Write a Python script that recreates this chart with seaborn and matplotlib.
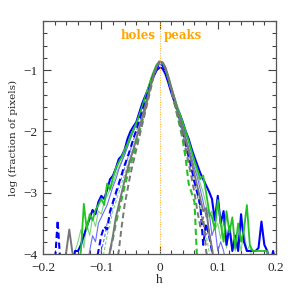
import numpy as np
import pandas as pd
import seaborn as sns
import matplotlib.pyplot as plt

# bin centres of h, step 0.005 from -0.2 to 0.2 (81 bins)
h = np.round(np.linspace(-0.2, 0.2, 81), 3)
LO = -4.2  # empty bins, below the plotted range

blue_solid = [LO, LO, LO, LO, LO, LO, LO, LO, LO, LO,
              LO, -3.95, -3.95, -3.85, -3.7, -3.55, -3.42, -3.28, -3.35, -3.15,
              -3.05, -3.1, -2.95, -2.78, -2.72, -2.6, -2.45, -2.4, -2.3, -2.12,
              -2.0, -1.92, -1.85, -1.7, -1.55, -1.43, -1.32, -1.2, -1.1, -1.0,
              -0.96, -0.97, -1.06, -1.2, -1.36, -1.5, -1.62, -1.72, -1.85, -2.0,
              -2.12, -2.28, -2.42, -2.55, -2.68, -2.78, -2.88, -2.98, -3.1, -3.45,
              -3.05, -3.5, -3.3, -3.85, -3.55, -3.95, -3.7, -3.95, -3.35, -3.8,
              -3.95, -3.95, -3.95, -3.95, -3.9, -3.47, -3.85, -3.95, LO, -3.95,
              LO]

green_solid = [LO, LO, LO, LO, LO, LO, LO, LO, LO, LO,
               LO, LO, LO, -3.95, -3.18, -3.6, -3.35, -3.45, -3.28, -3.2,
               -3.1, -3.2, -2.85, -2.95, -2.75, -2.6, -2.5, -2.42, -2.3, -2.2,
               -2.08, -1.97, -1.87, -1.74, -1.6, -1.45, -1.3, -1.15, -1.02, -0.91,
               -0.86, -0.88, -0.98, -1.12, -1.28, -1.43, -1.58, -1.72, -1.86, -2.0,
               -2.15, -2.32, -2.48, -2.62, -2.78, -2.72, -3.0, -3.3, -3.4, -3.6,
               -3.12, -3.5, -3.8, -3.3, -3.65, -3.4, -3.9, -3.5, -3.8, -3.6,
               -3.2, -3.85, -3.95, -3.95, -3.95, -3.95, -3.95, -3.95, LO, LO,
               LO]

blue_dashed = [LO, LO, LO, LO, LO, -3.45, LO, LO, LO, LO,
               LO, LO, LO, LO, LO, LO, LO, LO, LO, -3.95,
               -3.7, -3.55, -3.6, -3.3, -3.15, -3.0, -2.85, -2.7, -2.55, -2.42,
               -2.28, -2.12, -1.98, -1.82, -1.68, -1.52, -1.37, -1.22, -1.07, -0.96,
               -0.9, -0.92, -1.02, -1.17, -1.33, -1.5, -1.67, -1.84, -2.02, -2.2,
               -2.4, -2.6, -2.82, -3.0, -3.2, -3.85, -3.5, -3.7, -3.95, LO,
               LO, LO, LO, LO, LO, LO, LO, LO, LO, LO,
               LO, LO, LO, LO, LO, LO, LO, LO, LO, LO,
               LO]

green_dashed = [LO, LO, LO, LO, LO, LO, LO, LO, LO, LO,
                LO, LO, LO, LO, LO, LO, LO, LO, LO, LO,
                LO, LO, LO, -3.95, -3.75, -3.5, -3.3, -3.1, -2.9, -2.72,
                -2.55, -2.38, -2.2, -2.02, -1.85, -1.65, -1.45, -1.25, -1.07, -0.93,
                -0.85, -0.87, -0.97, -1.13, -1.32, -1.52, -1.72, -1.92, -2.15, -2.45,
                -2.85, -3.0, -3.15, LO, LO, LO, LO, LO, LO, LO,
                LO, LO, LO, LO, LO, LO, LO, LO, LO, LO,
                LO, LO, LO, LO, LO, LO, LO, LO, LO, LO,
                LO]

gray_solid = [LO, LO, LO, LO, LO, LO, LO, LO, -3.95, -3.6,
              -3.95, LO, LO, LO, LO, LO, LO, LO, LO, LO,
              LO, LO, LO, -3.95, -3.7, -3.4, -3.2, -3.0, -2.8, -2.62,
              -2.45, -2.3, -2.12, -1.95, -1.78, -1.6, -1.42, -1.24, -1.07, -0.94,
              -0.86, -0.87, -0.95, -1.1, -1.27, -1.44, -1.62, -1.8, -1.97, -2.14,
              -2.32, -2.5, -2.7, -2.9, -3.1, -3.3, -3.25, -3.65, -3.9, LO,
              LO, LO, LO, LO, LO, LO, LO, LO, LO, LO,
              LO, LO, LO, LO, LO, LO, LO, LO, LO, LO,
              LO]

gray_dashed = [LO, LO, LO, LO, LO, LO, LO, LO, LO, LO,
               LO, LO, LO, LO, LO, LO, LO, LO, LO, LO,
               LO, LO, LO, LO, LO, LO, -3.95, -3.55, -3.2, -2.95,
               -2.7, -2.5, -2.3, -2.1, -1.9, -1.7, -1.5, -1.3, -1.1, -0.95,
               -0.87, -0.88, -0.98, -1.14, -1.32, -1.5, -1.7, -1.9, -2.1, -2.3,
               -2.52, -2.75, -3.0, -3.3, -3.55, -3.4, -3.95, LO, LO, LO,
               LO, LO, LO, LO, LO, LO, LO, LO, LO, LO,
               LO, LO, LO, LO, LO, LO, LO, LO, LO, LO,
               LO]

blue_thin = [LO, LO, LO, LO, LO, LO, LO, LO, LO, LO,
             LO, LO, LO, LO, LO, LO, -3.95, -3.7, -3.8, -3.5,
             -3.4, -3.3, -3.2, -3.05, -2.9, -2.78, -2.62, -2.5, -2.38, -2.25,
             -2.12, -2.0, -1.88, -1.75, -1.62, -1.48, -1.34, -1.2, -1.06, -0.95,
             -0.9, -0.91, -1.0, -1.15, -1.3, -1.46, -1.62, -1.78, -1.94, -2.1,
             -2.26, -2.42, -2.6, -2.75, -2.95, -3.15, -3.4, -3.3, -3.7, -3.55,
             -3.95, -3.8, -3.95, LO, LO, LO, LO, LO, LO, LO,
             LO, LO, LO, LO, LO, LO, LO, LO, LO, LO,
             LO]

blue_thin_dashed = [LO, LO, LO, LO, LO, LO, LO, LO, LO, LO,
                    LO, LO, LO, LO, LO, LO, LO, LO, LO, LO,
                    -3.95, -3.75, -3.5, -3.4, -3.2, -3.05, -2.9, -2.75, -2.6, -2.45,
                    -2.3, -2.15, -2.0, -1.85, -1.7, -1.55, -1.4, -1.24, -1.08, -0.96,
                    -0.9, -0.91, -1.0, -1.15, -1.32, -1.5, -1.68, -1.86, -2.05, -2.25,
                    -2.45, -2.65, -2.85, -3.05, -3.3, -3.5, -3.7, -3.6, -3.95, LO,
                    LO, LO, LO, LO, LO, LO, LO, LO, LO, LO,
                    LO, LO, LO, LO, LO, LO, LO, LO, LO, LO,
                    LO]

green_thin = [LO, LO, LO, LO, LO, LO, LO, LO, LO, LO,
              LO, -3.95, -3.8, -3.6, -3.9, -3.5, -3.7, -3.4, -3.55, -3.3,
              -3.35, -3.15, -3.05, -2.95, -2.85, -2.7, -2.58, -2.48, -2.38, -2.25,
              -2.12, -2.0, -1.88, -1.75, -1.6, -1.46, -1.31, -1.16, -1.03, -0.92,
              -0.87, -0.88, -0.97, -1.12, -1.28, -1.43, -1.58, -1.73, -1.88, -2.03,
              -2.18, -2.35, -2.52, -2.7, -2.85, -3.0, -3.2, -3.4, -3.3, -3.6,
              -3.5, -3.75, -3.45, -3.9, -3.6, -3.8, -3.95, -3.7, -3.95, -3.6,
              -3.95, -3.85, LO, LO, LO, LO, LO, LO, LO, LO,
              LO]

green_thin_dashed = [LO, LO, LO, LO, LO, LO, LO, LO, LO, LO,
                     LO, LO, LO, LO, LO, LO, LO, LO, LO, LO,
                     LO, -3.95, -3.7, -3.5, -3.3, -3.15, -3.0, -2.85, -2.7, -2.55,
                     -2.4, -2.25, -2.1, -1.95, -1.78, -1.6, -1.42, -1.25, -1.08, -0.95,
                     -0.88, -0.89, -0.98, -1.14, -1.32, -1.5, -1.68, -1.86, -2.05, -2.25,
                     -2.45, -2.65, -2.85, -3.05, -3.25, -3.45, -3.7, -3.95, LO, LO,
                     LO, LO, LO, LO, LO, LO, LO, LO, LO, LO,
                     LO, LO, LO, LO, LO, LO, LO, LO, LO, LO,
                     LO]

# (values, colour, linewidth, dashed) in drawing order
curves = [
    (green_thin, "#7ad67a", 0.8, False),
    (green_thin_dashed, "#7ad67a", 0.8, True),
    (blue_thin, "#6a6aff", 0.8, False),
    (blue_thin_dashed, "#6a6aff", 0.8, True),
    (blue_solid, "#0000ff", 1.5, False),
    (green_solid, "#22c322", 1.3, False),
    (blue_dashed, "#0000ff", 1.5, True),
    (green_dashed, "#22c322", 1.5, True),
    (gray_solid, "#777777", 1.4, False),
    (gray_dashed, "#777777", 1.4, True),
]

sns.set_style("ticks")
plt.rcParams["font.family"] = ["Liberation Serif", "DejaVu Serif"]

fig = plt.figure(figsize=(2.93, 2.90), dpi=100)
ax = fig.add_axes([0.147, 0.124, 0.795, 0.803])

for vals, col, lw, dashed in curves:
    df = pd.DataFrame({"h": h, "f": vals})
    line = sns.lineplot(data=df, x="h", y="f", ax=ax, color=col, lw=lw,
                        estimator=None, sort=False)
    if dashed:
        line.lines[-1].set_dashes((3, 1.8))

ax.axvline(0, color="#ffb733", lw=0.8, ls=(0, (1, 1.2)))
ax.text(-0.007, -0.44, "holes", color="orange", fontweight="bold",
        fontsize=8.5, family="DejaVu Serif", ha="right", va="center")
ax.text(0.007, -0.44, "peaks", color="orange", fontweight="bold",
        fontsize=8.5, family="DejaVu Serif", ha="left", va="center")

ax.set_xlim(-0.2, 0.2)
ax.set_ylim(-4, -0.2)
ax.set_xticks([-0.2, -0.1, 0, 0.1, 0.2])
ax.set_xticklabels(["\u22120.2", "\u22120.1", "0", "0.1", "0.2"])
ax.set_yticks([-4, -3, -2, -1])
ax.set_yticklabels(["\u22124", "\u22123", "\u22122", "\u22121"])
ax.set_xticks(np.round(np.arange(-0.2, 0.201, 0.02), 2), minor=True)
ax.set_yticks(np.round(np.arange(-4, -0.19, 0.2), 1), minor=True)
ax.tick_params(which="both", direction="in", top=True, right=True,
               labelsize=9.5, color="#444444", width=0.8)
ax.tick_params(which="major", length=6)
ax.tick_params(which="minor", length=3)
ax.tick_params(axis="x", pad=6)
ax.tick_params(axis="y", pad=4)
for s in ax.spines.values():
    s.set_color("#555555")
    s.set_linewidth(0.9)

ax.set_xlabel("h", fontsize=9.5, labelpad=0)
ax.set_ylabel("log (fraction of pixels)", fontsize=7.5, family="DejaVu Serif",
              labelpad=4)

plt.savefig("out.png", dpi=100)
